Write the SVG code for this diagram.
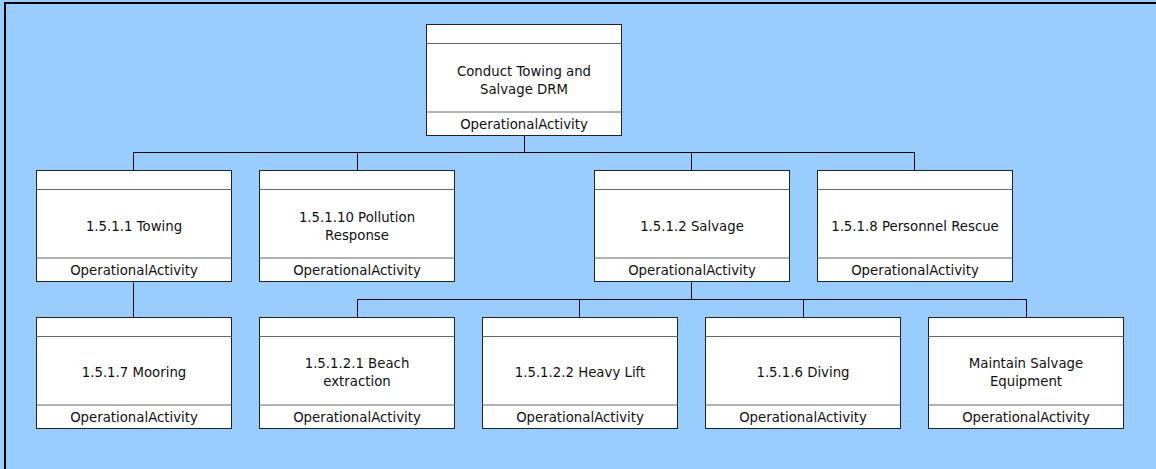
<svg xmlns="http://www.w3.org/2000/svg" width="1156" height="469" viewBox="0 0 1156 469">
<style>
.box{fill:#fff;stroke:#222;stroke-width:1}
.sep{stroke:#666;stroke-width:1}
.t{font-family:"DejaVu Sans",sans-serif;font-size:13.3px;fill:#111;text-anchor:middle}
.c{fill:none;stroke:#000;stroke-width:1}
</style>
<defs>
<g id="node">
<rect class="box" x="0.5" y="0.5" width="195" height="111"/>
<line class="sep" x1="0.5" y1="19.5" x2="195.5" y2="19.5"/>
<line class="sep" x1="0.5" y1="88" x2="195.5" y2="88"/>
<text class="t" x="98" y="105">OperationalActivity</text>
</g>
</defs>
<rect x="0" y="0" width="1156" height="469" fill="#99CCFF"/>
<line x1="5" y1="2" x2="5" y2="469" stroke="#000" stroke-width="2"/>
<line x1="4" y1="3" x2="1156" y2="3" stroke="#000" stroke-width="2"/>
<g id="connectors">
<path class="c" d="M524.5 135.5V152.5M133.5 170.5V152.5H914.5V170.5M357.5 152.5V170.5M691.5 152.5V170.5"/>
<path class="c" d="M133.5 282.5V317"/>
<path class="c" d="M691.5 282.5V299.5M357.5 317V299.5H1026.5V317M579.5 299.5V317M803.5 299.5V317"/>
</g>
<g id="n-root" transform="translate(426,24)">
<use href="#node"/>
<text class="t" x="98" y="51.5">Conduct Towing and</text>
<text class="t" x="98" y="69.5">Salvage DRM</text>
</g>
<g id="n-towing" transform="translate(36,170)">
<use href="#node"/>
<text class="t" x="98" y="60.5">1.5.1.1 Towing</text>
</g>
<g id="n-pollution" transform="translate(259,170)">
<use href="#node"/>
<text class="t" x="98" y="51.5">1.5.1.10 Pollution</text>
<text class="t" x="98" y="69.5">Response</text>
</g>
<g id="n-salvage" transform="translate(594,170)">
<use href="#node"/>
<text class="t" x="98" y="60.5">1.5.1.2 Salvage</text>
</g>
<g id="n-rescue" transform="translate(817,170)">
<use href="#node"/>
<text class="t" x="98" y="60.5">1.5.1.8 Personnel Rescue</text>
</g>
<g id="n-mooring" transform="translate(36,317)">
<use href="#node"/>
<text class="t" x="98" y="59.5">1.5.1.7 Mooring</text>
</g>
<g id="n-beach" transform="translate(259,317)">
<use href="#node"/>
<text class="t" x="98" y="50.5">1.5.1.2.1 Beach</text>
<text class="t" x="98" y="68.5">extraction</text>
</g>
<g id="n-heavy" transform="translate(482,317)">
<use href="#node"/>
<text class="t" x="98" y="59.5">1.5.1.2.2 Heavy Lift</text>
</g>
<g id="n-diving" transform="translate(705,317)">
<use href="#node"/>
<text class="t" x="98" y="59.5">1.5.1.6 Diving</text>
</g>
<g id="n-maintain" transform="translate(928,317)">
<use href="#node"/>
<text class="t" x="98" y="50.5">Maintain Salvage</text>
<text class="t" x="98" y="68.5">Equipment</text>
</g>
</svg>
